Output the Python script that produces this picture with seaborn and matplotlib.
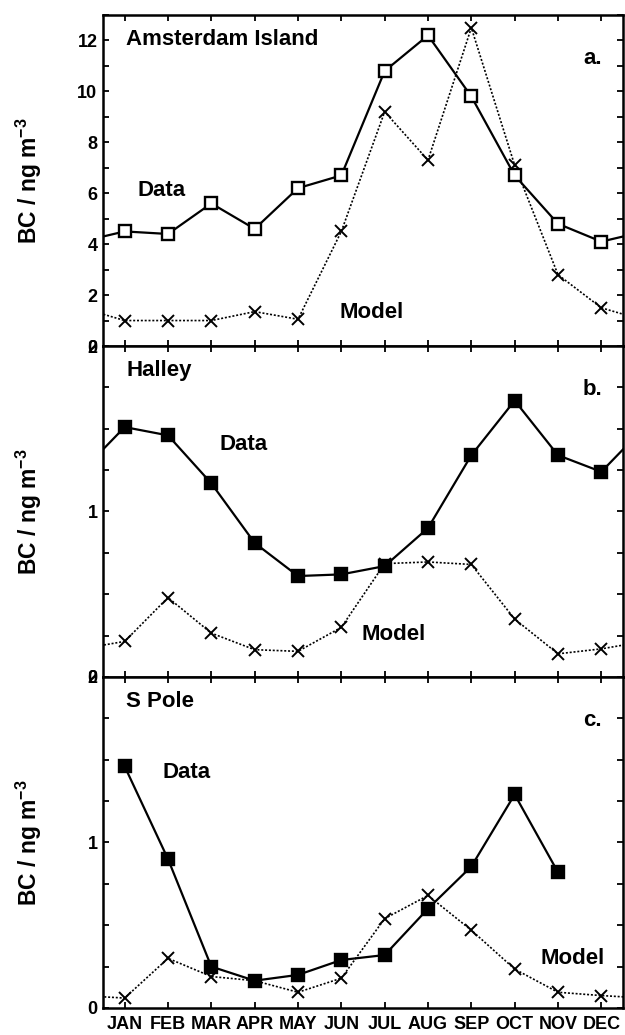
import numpy as np
import pandas as pd
import matplotlib.pyplot as plt
import matplotlib.ticker as mticker
import seaborn as sns

# Monthly BC, ng m-3
months = ['JAN', 'FEB', 'MAR', 'APR', 'MAY', 'JUN', 'JUL', 'AUG', 'SEP', 'OCT', 'NOV', 'DEC']

ams_data = [4.5, 4.4, 5.6, 4.6, 6.2, 6.7, 10.8, 12.2, 9.8, 6.7, 4.8, 4.1]
ams_model = [1.0, 1.0, 1.0, 1.35, 1.05, 4.5, 9.2, 7.3, 12.5, 7.1, 2.8, 1.5]

hal_data = [1.51, 1.46, 1.17, 0.81, 0.61, 0.62, 0.67, 0.90, 1.34, 1.67, 1.34, 1.24]
hal_model = [0.215, 0.48, 0.265, 0.165, 0.155, 0.30, 0.685, 0.695, 0.68, 0.35, 0.14, 0.17]

spo_data = [1.46, 0.90, 0.25, 0.165, 0.20, 0.29, 0.32, 0.60, 0.855, 1.29, 0.82, np.nan]
spo_model = [0.06, 0.30, 0.19, 0.165, 0.095, 0.18, 0.54, 0.68, 0.47, 0.235, 0.095, 0.075]

sns.set_style('ticks', {'axes.edgecolor': 'black', 'text.color': 'black',
                        'axes.labelcolor': 'black', 'xtick.color': 'black',
                        'ytick.color': 'black'})
plt.rcParams['font.family'] = ['Liberation Sans', 'DejaVu Sans']
plt.rcParams['font.weight'] = 'bold'
plt.rcParams['mathtext.fontset'] = 'custom'
plt.rcParams['mathtext.rm'] = 'Liberation Sans:bold'
plt.rcParams['mathtext.default'] = 'rm'


def cyclic(vals):
    # wrap Dec before Jan and Jan after Dec so lines run off the edges
    x = np.arange(1, 13)
    v = np.array(vals, dtype=float)
    if np.isnan(v).any():
        ok = ~np.isnan(v)
        return pd.DataFrame({'m': x[ok], 'v': v[ok]})
    x = np.concatenate([[0], x, [13]])
    v = np.concatenate([[v[-1]], v, [v[0]]])
    return pd.DataFrame({'m': x, 'v': v})


fig = plt.figure(figsize=(6.25, 10.35), dpi=100)
left, width, h = 0.1648, 0.832, 0.3198
bottoms = [0.6657, 0.3459, 0.0261]

panels = [
    ('Amsterdam Island', 'a.', ams_data, ams_model, 'white', (0, 13), 2, 1,
     (1.86, 6.1), (6.7, 1.33)),
    ('Halley', 'b.', hal_data, hal_model, 'black', (0, 2), 1, 0.25,
     (3.74, 1.405), (7.2, 0.256)),
    ('S Pole', 'c.', spo_data, spo_model, 'black', (0, 2), 1, 0.25,
     (2.42, 1.42), (11.33, 0.30)),
]

for i, (name, tag, data, model, mfc, ylim, major, minor, dpos, mpos) in enumerate(panels):
    ax = fig.add_axes([left, bottoms[i], width, h])
    d = cyclic(data)
    m = cyclic(model)
    sns.lineplot(data=m, x='m', y='v', ax=ax, color='black', lw=1.2,
                 linestyle=(0, (1.2, 1.1)), marker='x', markersize=8.5,
                 markeredgecolor='black', markeredgewidth=1.4, sort=False)
    sns.lineplot(data=d, x='m', y='v', ax=ax, color='black', lw=1.6,
                 marker='s', markersize=8.5, markerfacecolor=mfc,
                 markeredgecolor='black', markeredgewidth=1.7, sort=False)

    ax.set_xlim(0.5, 12.5)
    ax.set_ylim(*ylim)
    ax.set_xticks(range(1, 13))
    ax.yaxis.set_major_locator(mticker.MultipleLocator(major))
    ax.yaxis.set_minor_locator(mticker.MultipleLocator(minor))
    ax.yaxis.set_major_formatter(mticker.FuncFormatter(lambda v, p: '%d' % round(v)))
    ax.tick_params(axis='both', which='both', direction='in', top=True, right=True,
                   length=4, width=1.3, labelsize=13, colors='black')
    ax.tick_params(axis='y', pad=4)
    if i < 2:
        ax.set_xticklabels([])
    else:
        ax.set_xticklabels(months, fontsize=13, fontweight='bold')
        ax.tick_params(axis='x', pad=6)
    for lab in ax.get_yticklabels():
        lab.set_fontweight('bold')
    for sp in ax.spines.values():
        sp.set_linewidth(1.8)
        sp.set_color('black')
        sp.set_visible(True)

    ax.set_xlabel('')
    ax.set_ylabel('BC / ng m$^{-3}$', fontsize=16.5, fontweight='bold', color='black')
    ax.yaxis.set_label_coords(-0.113, 0.5)

    ax.text(0.045, 0.925, name, transform=ax.transAxes, fontsize=16,
            fontweight='bold', va='center', ha='left', color='black')
    ax.text(0.96, 0.87, tag, transform=ax.transAxes, fontsize=16,
            fontweight='bold', va='center', ha='right', color='black')
    ax.text(dpos[0], dpos[1], 'Data', fontsize=16, fontweight='bold',
            va='center', ha='center', color='black')
    ax.text(mpos[0], mpos[1], 'Model', fontsize=16, fontweight='bold',
            va='center', ha='center', color='black')

fig.savefig('out.png', dpi=100)
